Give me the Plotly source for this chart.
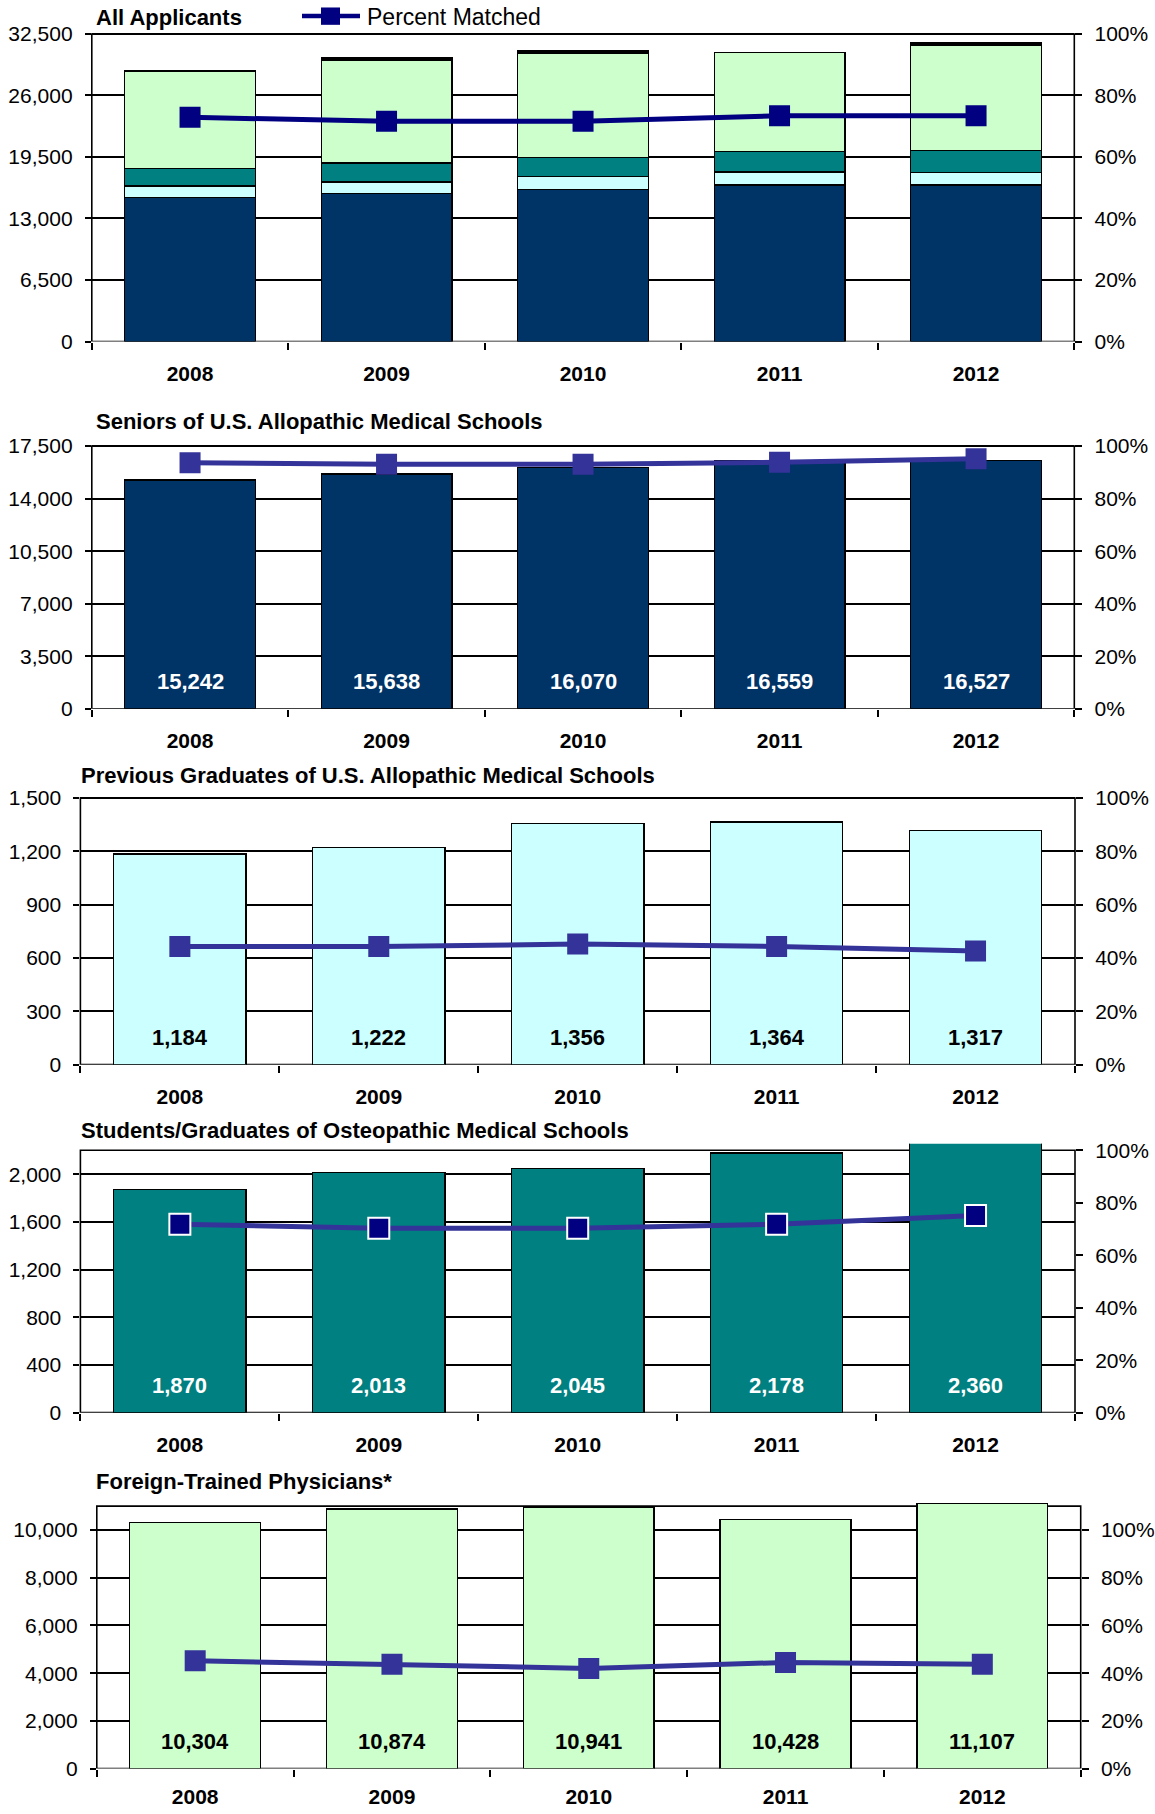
import plotly.graph_objects as go

# ---------------- data ----------------
years = ["2008", "2009", "2010", "2011", "2012"]
seniors = [15242, 15638, 16070, 16559, 16527]
prev_grads = [1184, 1222, 1356, 1364, 1317]
osteopathic = [1870, 2013, 2045, 2178, 2360]
foreign = [10304, 10874, 10941, 10428, 11107]
other = [None, 260, 270, None, 260]

pct_all = [0.729, 0.716, 0.716, 0.734, 0.734]
pct_seniors = [0.937, 0.931, 0.931, 0.938, 0.952]
pct_prev = [0.443, 0.443, 0.452, 0.443, 0.426]
pct_osteo = [0.718, 0.703, 0.703, 0.718, 0.752]
pct_foreign = [0.452, 0.437, 0.420, 0.445, 0.437]

titles = [
    "All Applicants",
    "Seniors of U.S. Allopathic Medical Schools",
    "Previous Graduates of U.S. Allopathic Medical Schools",
    "Students/Graduates of Osteopathic Medical Schools",
    "Foreign-Trained Physicians*",
]
left_tickvals = [
    [0, 6500, 13000, 19500, 26000, 32500],
    [0, 3500, 7000, 10500, 14000, 17500],
    [0, 300, 600, 900, 1200, 1500],
    [0, 400, 800, 1200, 1600, 2000],
    [0, 2000, 4000, 6000, 8000, 10000],
]
left_max = [32500, 17500, 1500, 2200, 11000]
right_tickvals = [0, 0.2, 0.4, 0.6, 0.8, 1.0]
right_max = [1.0, 1.0, 1.0, 1.0, 1.1]
legend_label = "Percent Matched"

# ---------------- styling / layout ----------------
W, H = 1155, 1814
FONT = "Arial, Liberation Sans, sans-serif"
NAVY_BAR = "#003366"
CYAN = "#CCFFFF"
TEAL = "#008080"
GREEN = "#CCFFCC"
LINE_NAVY = "#000080"
LINE_BLUE = "#333399"
EXT = 1.025

# pixel geometry of each panel: left, right, top (nominal max), zero line
geom = [
    (91.8, 1074.3, 29.2, 339.5),
    (91.8, 1074.3, 445.0, 710.1),
    (80.4, 1075.0, 800.0, 1069.1),
    (80.4, 1075.0, 1155.5, 1420.2),
    (96.8, 1080.7, 1514.5, 1779.3),
]
xlabel_standoff = [17, 17, 17, 17, 13]
title_pos = [(93.8, 13.0), (93.8, 420.5), (79.2, 777.5), (79.2, 1135.4), (93.8, 1489.5)]

fig = go.Figure()


def ax_names(k):
    xa = "x" if k == 1 else f"x{k}"
    yp = "y" if k == 1 else f"y{2*k-1}"
    ys = f"y{2*k}"
    return xa, yp, ys


bar_line = dict(color="black", width=1.4)

# Panel 1: stacked bars
xa, yp, ys = ax_names(1)
for vals, col, name in [
    (seniors, NAVY_BAR, "Seniors"),
    (prev_grads, CYAN, "Previous Graduates"),
    (osteopathic, TEAL, "Osteopathic"),
    (foreign, GREEN, "Foreign-Trained"),
    (other, "black", "Other"),
]:
    fig.add_trace(go.Bar(x=years, y=vals, marker=dict(color=col, line=bar_line),
                         name=name, showlegend=False, xaxis=xa, yaxis=yp))
fig.add_trace(go.Scatter(x=years, y=pct_all, mode="lines+markers",
                         line=dict(color=LINE_NAVY, width=5),
                         marker=dict(symbol="square", size=21, color=LINE_NAVY),
                         showlegend=False, xaxis=xa, yaxis=ys))

single = [
    (2, seniors, NAVY_BAR, "white", pct_seniors, LINE_BLUE, dict(color=LINE_BLUE)),
    (3, prev_grads, CYAN, "black", pct_prev, LINE_BLUE, dict(color=LINE_BLUE)),
    (4, osteopathic, TEAL, "white", pct_osteo, LINE_BLUE,
     dict(color=LINE_NAVY, line=dict(color="white", width=2))),
    (5, foreign, GREEN, "black", pct_foreign, LINE_BLUE, dict(color=LINE_BLUE)),
]
annotations = []
for k, vals, col, tcol, pct, lcol, mk in single:
    xa, yp, ys = ax_names(k)
    fig.add_trace(go.Bar(x=years, y=vals, marker=dict(color=col, line=bar_line),
                         showlegend=False, xaxis=xa, yaxis=yp))
    fig.add_trace(go.Scatter(x=years, y=pct, mode="lines+markers",
                             line=dict(color=lcol, width=5),
                             marker=dict(symbol="square", size=21, **mk),
                             showlegend=False, xaxis=xa, yaxis=ys))
    for i, v in enumerate(vals):
        annotations.append(dict(x=i, y=0, xref=xa, yref=yp, yshift=27,
                                text=f"{v:,}", showarrow=False, yanchor="middle",
                                font=dict(family=FONT, size=22, color=tcol, weight="bold")))

shapes = []
layout = dict(
    width=W, height=H, margin=dict(l=0, r=0, t=0, b=0),
    paper_bgcolor="white", plot_bgcolor="white",
    barmode="stack", bargap=0.335, showlegend=False,
    font=dict(family=FONT, size=21, color="black"),
)

for k in range(1, 6):
    left, right, top, zero = geom[k - 1]
    xa, yp, ys = ax_names(k)
    xkey = "xaxis" if k == 1 else f"xaxis{k}"
    ypkey = "yaxis" if k == 1 else f"yaxis{2*k-1}"
    yskey = f"yaxis{2*k}"
    ydom = [1 - zero / H, 1 - (zero - (zero - top) * EXT) / H]
    layout[xkey] = dict(
        domain=[left / W, right / W], anchor=yp, type="category",
        categoryorder="array", categoryarray=years, range=[-0.5, 4.5],
        tickson="boundaries", ticks="outside", ticklen=7, tickwidth=1.6,
        tickcolor="black", showline=False, showgrid=False, zeroline=False,
        tickfont=dict(family=FONT, size=21, weight="bold"),
        ticklabelstandoff=xlabel_standoff[k - 1], fixedrange=True,
    )
    lt = left_tickvals[k - 1]
    layout[ypkey] = dict(
        domain=ydom, anchor=xa, range=[0, left_max[k - 1] * EXT],
        tickmode="array", tickvals=lt, ticktext=[f"{v:,}" for v in lt],
        ticks="outside", ticklen=6, tickwidth=1.6, tickcolor="black",
        showgrid=True, gridcolor="black", gridwidth=1.5, zeroline=False,
        showline=False, tickfont=dict(family=FONT, size=21),
        ticklabelstandoff=8, fixedrange=True,
    )
    layout[yskey] = dict(
        overlaying=yp, side="right", anchor=xa,
        range=[0, right_max[k - 1] * EXT],
        tickmode="array", tickvals=right_tickvals,
        ticktext=[f"{int(round(v*100))}%" for v in right_tickvals],
        ticks="outside", ticklen=7, tickwidth=1.6, tickcolor="black",
        showgrid=False, zeroline=False, showline=False,
        tickfont=dict(family=FONT, size=21), ticklabelstandoff=8, fixedrange=True,
    )
    # plot frame (drawn behind bars)
    shapes.append(dict(type="rect", xref=f"{xa} domain", yref=yp, x0=0, x1=1,
                       y0=0, y1=left_max[k - 1], line=dict(color="black", width=1.6),
                       fillcolor="rgba(0,0,0,0)", layer="below"))
    tx, ty = title_pos[k - 1]
    annotations.append(dict(x=tx / W, y=1 - ty / H, xref="paper", yref="paper",
                            xanchor="left", yanchor="middle", showarrow=False,
                            text=titles[k - 1],
                            font=dict(family=FONT, size=22, weight="bold")))

# manual legend for panel 1
shapes.append(dict(type="line", xref="paper", yref="paper",
                   x0=302 / W, x1=360 / W, y0=1 - 11 / H, y1=1 - 11 / H,
                   line=dict(color=LINE_NAVY, width=4.5)))
shapes.append(dict(type="rect", xref="paper", yref="paper",
                   x0=321 / W, x1=340 / W, y0=1 - 20 / H, y1=1 - 2.5 / H,
                   line=dict(color=LINE_NAVY, width=0), fillcolor=LINE_NAVY))
annotations.append(dict(x=365 / W, y=1 - 12.5 / H, xref="paper", yref="paper",
                        xanchor="left", yanchor="middle", showarrow=False,
                        text=legend_label, font=dict(family=FONT, size=23)))

layout["shapes"] = shapes
layout["annotations"] = annotations
fig.update_layout(**layout)

page_fix = (
    "document.documentElement.style.margin='0';"
    "document.documentElement.style.padding='0';"
    "document.documentElement.style.overflow='hidden';"
    "document.body.style.margin='0';document.body.style.padding='0';"
    "document.body.style.overflow='hidden';"
    "var gd=document.getElementById('{plot_id}');"
    "gd.style.position='absolute';gd.style.left='0px';gd.style.top='0px';"
)
fig.write_html("out.html", config={"displayModeBar": False}, post_script=page_fix)
